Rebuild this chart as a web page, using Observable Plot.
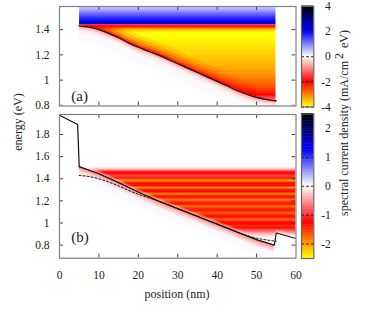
<!DOCTYPE html>
<html><head><meta charset="utf-8">
<script src="https://cdn.jsdelivr.net/npm/d3@7"></script>
<script src="https://cdn.jsdelivr.net/npm/@observablehq/plot@0.6"></script>
<style>
html,body{margin:0;padding:0;background:#fff;overflow:hidden}
#c{position:relative;width:374px;height:315px;font-family:"Liberation Serif",serif;color:#222}
#c svg{position:absolute;left:0;top:0;background:transparent}
#c svg text{font-family:"Liberation Serif",serif !important}
.lab{position:absolute;font-size:12px;white-space:nowrap;line-height:1}
.rot{transform:translate(-50%,-50%) rotate(-90deg)}
.lab sup{font-size:12px;line-height:0;vertical-align:5px;margin:0 2px}
</style></head><body><div id="c"></div>
<script>
const edgePos=[5,7.5,10,12.5,15,17.5,20,22.5,25,30,32.5,35,40,42.5,45,47.5,50,52.5,55];
const edgeE=[1.43,1.42,1.40,1.37,1.335,1.295,1.26,1.23,1.20,1.13,1.095,1.06,0.99,0.955,0.918,0.888,0.863,0.847,0.835];
const solidPos=[0,4.6,5,10,15,20,25,30,35,40,45,50,54.5,55,60];
const solidE=[1.975,1.89,1.51,1.445,1.365,1.28,1.2,1.13,1.06,0.99,0.92,0.85,0.80,0.91,0.86];
const rowsAE=[1.58,1.57,1.56,1.55,1.54,1.53,1.52,1.51,1.50,1.49,1.48,1.47,1.46,1.45,1.44,1.43,1.42,1.41,1.40,1.39,1.38,1.37,1.36,1.35,1.34,1.33,1.32,1.31,1.30,1.29,1.28,1.27,1.26,1.25,1.24,1.23,1.22,1.21,1.20,1.19,1.18,1.17,1.16,1.15,1.14,1.13,1.12,1.11,1.10,1.09,1.08,1.07,1.06,1.05,1.04,1.03,1.02,1.01,1.00,0.99,0.98,0.97,0.96,0.95,0.94,0.93,0.92,0.91,0.90,0.89,0.88,0.87,0.86,0.85,0.84,0.83,0.82,0.81,0.80];
const rowsAV=[.35,.45,.55,.7,.85,1,1.15,1.3,1.45,1.6,1.75,1.9,2,2.3,2.4,-1.5,-2,-2.6,-3.1,-3.5,-3.85,-4,-4,-4,-4,-3.95,-3.95,-3.9,-3.9,-3.85,-3.85,-3.8,-3.8,-3.75,-3.75,-3.7,-3.7,-3.65,-3.65,-3.6,-3.6,-3.55,-3.55,-3.5,-3.5,-3.45,-3.4,-3.4,-3.35,-3.3,-3.3,-3.25,-3.2,-3.2,-3.15,-3.1,-3.05,-3,-2.95,-2.9,-2.85,-2.8,-2.75,-2.7,-2.6,-2.5,-2.45,-2.35,-2.25,-2.15,-2,-1.85,-1.65,-1.4,-1.15,-.8,-.5,-.3,-.15];
const rowsBE=[1.50,1.49,1.48,1.47,1.46,1.45,1.44,1.43,1.42,1.41,1.40,1.39,1.38,1.37,1.36,1.35,1.34,1.33,1.32,1.31,1.30,1.29,1.28,1.27,1.26,1.25,1.24,1.23,1.22,1.21,1.20,1.19,1.18,1.17,1.16,1.15,1.14,1.13,1.12,1.11,1.10,1.09,1.08,1.07,1.06,1.05,1.04,1.03,1.02,1.01,1.00,0.99,0.98,0.97,0.96,0.95,0.94,0.93,0.92,0.91,0.90,0.89,0.88,0.87,0.86,0.85];
const rowsBV=[-.05,-.15,-.3,-.6,-1,-1.25,-1.2,-1.05,-.95,-1,-1.2,-1.5,-2,-1.9,-1.45,-1.2,-1.15,-1.25,-1.65,-1.95,-1.55,-1.3,-1.25,-1.4,-1.85,-1.85,-1.45,-1.3,-1.35,-1.6,-1.85,-1.65,-1.4,-1.3,-1.4,-1.7,-1.8,-1.55,-1.35,-1.3,-1.4,-1.65,-1.7,-1.5,-1.35,-1.3,-1.4,-1.6,-1.65,-1.45,-1.3,-1.25,-1.3,-1.45,-1.45,-1.3,-1.1,-.95,-.8,-.6,-.45,-.3,-.2,-.12,-.07,-.03];
const aboveA=[[0,.012,.95],[.012,.025,.7],[.025,.045,.45],[.045,.07,.25],[.07,.1,.1]];
const aboveB=[[0,.012,.55],[.012,.025,.3]];
const belowA=[[0,.012,-1.1],[.012,.025,-.6],[.025,.04,-.3],[.04,.06,-.12],[.06,.09,-.04],[.09,.13,.03]];
const belowB=[[0,.015,-.7],[.015,.03,-.45],[.03,.05,-.25],[.05,.07,-.1],[.07,.1,.03],[.1,.14,.02]];
const yTicksA=[0.8,1,1.2,1.4], yTicksB=[0.8,1,1.2,1.4,1.6,1.8], xTicks=[0,10,20,30,40,50,60];
const barA=[-4,-2,0,2,4], barB=[-2,-1,0,1,2];
const colors=["#ffff00","#ff0000","#ffffff","#0000ff","#000000"];

const edge=edgePos.map((pos,i)=>({pos,e:edgeE[i]}));
const solid=solidPos.map((pos,i)=>({pos,e:solidE[i]}));
const rowsOf=(E,V)=>E.map((e,i)=>({e,v:V[i]}));
const W=374,H=315,L=59,R=374-295.5;
const font={fontFamily:"Liberation Serif, serif",fontSize:"11.5px",color:"#222",background:"transparent",overflow:"visible"};
const colorOf=m=>({type:"linear",domain:[-m,-m/2,0,m/2,m],range:colors,interpolate:"rgb",clamp:true});
const cap=(v,c)=>c?Math.min(v,c):v;
const curve="monotone-x";
const tintBand=(t,lo,hi,o,c,fill)=>Plot.areaY(t,{x:"pos",y1:d=>cap(d.e+lo,c),y2:d=>cap(d.e+hi,c),fill,fillOpacity:o,curve});
const bandB=(t,lo,hi,v)=>Plot.areaY(t,{x:"pos",y1:d=>d.e-hi,y2:d=>d.e-lo,fill:()=>v,curve});

function ticks(xs,ys,top,bottom){
  const w=W-L-R,h=H-top-bottom,gray="#444";
  return [
    Plot.tickX(xs.slice(1,-1),{x:d=>d,stroke:gray,insetTop:h-4}),
    Plot.tickX(xs.slice(1,-1),{x:d=>d,stroke:gray,insetBottom:h-4}),
    Plot.tickY(ys,{y:d=>d,stroke:gray,insetRight:w-4}),
    Plot.tickY(ys,{y:d=>d,stroke:gray,insetLeft:w-4}),
    Plot.frame({stroke:"#808080",strokeWidth:1.2})
  ];
}
function axisY(ys){return Plot.axisY(ys,{tickSize:0,tickPadding:10,tickFormat:d=>String(d),anchor:"left",label:null});}

const x={domain:[0,60]};
const mainA=Plot.plot({width:W,height:H,marginLeft:L,marginRight:R,marginTop:6,marginBottom:H-105.5,style:font,
  x:{...x,axis:null},y:{domain:[0.795,1.583],axis:null},color:colorOf(4),clip:true,
  marks:[
    Plot.rect(rowsOf(rowsAE,rowsAV),{x1:()=>5.1,x2:()=>54.9,y1:d=>d.e-.005,y2:d=>d.e+.005,fill:"v",insetTop:-.5}),
    ...aboveA.map(([lo,hi,o])=>tintBand(edge.filter(d=>d.pos<=50),lo,hi,o,1.435,"#ff0000")),
    Plot.areaY(edge,{x:"pos",y1:()=>0.795,y2:"e",fill:"white",curve}),
    ...belowA.slice().reverse().map(([lo,hi,v])=>bandB(edge,lo,hi,v)),
    Plot.line(edge,{x:"pos",y:"e",stroke:"#111",strokeWidth:1.2,curve}),
    Plot.text(["(a)"],{x:()=>3,y:()=>0.87,text:d=>d,textAnchor:"start",fontSize:15,fill:"#222"}),
    ...ticks(xTicks,yTicksA,6,H-105.5),
    axisY(yTicksA)
  ]});
const solidBody=solid.filter(d=>d.pos>=5&&d.pos<=54.5);
const mainB=Plot.plot({width:W,height:H,marginLeft:L,marginRight:R,marginTop:114,marginBottom:H-257.7,style:font,
  x:{...x,axis:null},y:{domain:[0.682,1.981],axis:null},color:colorOf(2.5),clip:true,
  marks:[
    Plot.rect(rowsOf(rowsBE,rowsBV),{x1:()=>5.1,x2:()=>60,y1:d=>d.e-.005,y2:d=>d.e+.005,fill:"v",insetTop:-.5}),
    ...aboveB.map(([lo,hi,o])=>tintBand(solid.filter(d=>d.pos>=5),lo,hi,o,null,"white")),
    Plot.areaY(solid.filter(d=>d.pos>=5),{x:"pos",y1:()=>0.682,y2:"e",fill:"white"}),
    ...belowB.slice().reverse().map(([lo,hi,v])=>bandB(solidBody,lo,hi,v)),
    Plot.line(edge,{x:"pos",y:"e",stroke:"#111",strokeWidth:1,strokeDasharray:"2,2",curve}),
    Plot.line(solid,{x:"pos",y:"e",stroke:"#111",strokeWidth:1.2}),
    Plot.text(["(b)"],{x:()=>3,y:()=>0.87,text:d=>d,textAnchor:"start",fontSize:15,fill:"#222"}),
    ...ticks(xTicks,yTicksB,114,H-257.7),
    axisY(yTicksB),
    Plot.axisX(xTicks,{tickSize:0,tickPadding:13,anchor:"bottom",label:null,tickFormat:d=>String(d)})
  ]});

function bar(m,top,bottom,lab){
  const step=m/50;
  return Plot.plot({width:W,height:H,marginLeft:301,marginRight:W-313.3,marginTop:top,marginBottom:H-bottom,style:font,
    x:{domain:[0,1],axis:null},y:{domain:[-m,m],axis:null},color:colorOf(m),
    marks:[
      Plot.rect(d3.range(-m,m,step),{x1:()=>0,x2:()=>1,y1:d=>d,y2:d=>d+step,fill:d=>d+step/2,insetTop:-.5}),
      Plot.ruleY(lab,{y:d=>d,stroke:"#222",strokeDasharray:"3,2",strokeWidth:1}),
      Plot.frame({stroke:"#666",strokeWidth:1.2}),
      Plot.text(lab,{y:d=>d,text:d=>String(d),frameAnchor:"right",textAnchor:"end",dx:17,fontSize:11.5,fill:"#222"})
    ]});
}
const c=document.getElementById("c");
c.append(mainA,mainB,bar(4,6,106.5,barA),bar(2.5,113.5,258,barB));
function label(html,x,y,rot){const d=document.createElement("div");d.className="lab"+(rot?" rot":"");d.innerHTML=html;d.style.left=x+"px";d.style.top=y+"px";if(!rot)d.style.transform="translate(-50%,-50%)";c.append(d);}
label("energy (eV)",18,122,true);
label("position (nm)",177,294,false);
label("spectral current density (mA/cm<sup>2</sup> eV)",344,123,true);
</script></body></html>
